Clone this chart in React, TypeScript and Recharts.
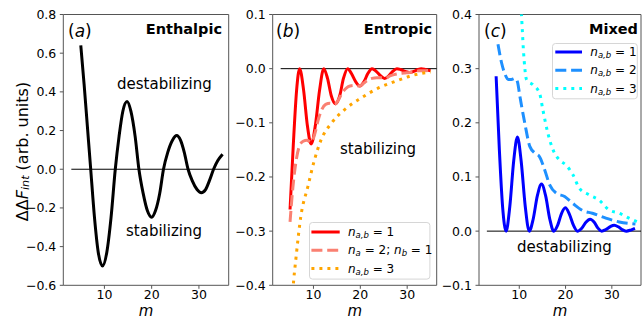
import React from 'react';
import { LineChart, Line, XAxis, YAxis, ReferenceLine, ReferenceArea, Legend } from 'recharts';

const FONT = 'DejaVu Sans, sans-serif';
const SPINE = '#555';
const X_DOMAIN: [number, number] = [1.3, 36.3];
const X_TICKS = [10, 20, 30];

// (a) enthalpic
const mA = [5, 5.7, 6.4, 7.1, 7.9, 8.7, 9.6, 10.5, 11.4, 12.3, 13.1, 13.9, 14.8, 15.6, 16.5, 17.3, 18.2, 19.1, 20.0, 20.8, 21.7, 22.5, 23.4, 24.4, 25.3, 26.1, 26.9, 27.7, 28.6, 29.6, 30.5, 31.4, 32.2, 33.1, 34.0, 35.0];
const dfA = [0.64, 0.44, 0.22, 0, -0.25, -0.43, -0.5, -0.43, -0.25, 0, 0.17, 0.3, 0.35, 0.3, 0.17, 0, -0.125, -0.215, -0.248, -0.215, -0.125, 0, 0.087, 0.15, 0.174, 0.15, 0.087, 0, -0.06, -0.105, -0.121, -0.105, -0.06, 0, 0.045, 0.078];

// (b) entropic
const mB1 = [5, 5.7, 6.4, 7.05, 7.9, 8.7, 9.5, 10.4, 11.3, 12.2, 13.0, 13.8, 14.7, 15.6, 16.4, 17.3, 18.1, 19.0, 19.9, 20.8, 21.6, 22.5, 23.4, 24.3, 25.2, 26.1, 26.9, 27.8, 28.7, 29.6, 30.5, 31.4, 32.2, 33.0, 34.0, 35.0];
const dfB1 = [-0.26, -0.14, -0.04, 0, -0.04, -0.105, -0.139, -0.105, -0.04, 0, -0.018, -0.05, -0.065, -0.05, -0.018, 0, -0.009, -0.024, -0.032, -0.024, -0.009, 0, -0.005, -0.013, -0.018, -0.013, -0.005, 0, -0.002, -0.005, -0.007, -0.005, -0.002, 0, -0.002, -0.004];
const mB2 = [5, 5.6, 6.3, 7.0, 7.8, 8.6, 9.5, 10.3, 11.0, 11.8, 12.6, 13.5, 14.5, 15.3, 16.1, 17.0, 17.8, 18.8, 19.8, 20.7, 21.6, 22.5, 23.5, 24.5, 25.3, 26.2, 27.2, 28.2, 29.3, 30.5, 31.5, 32.5, 33.5, 35.0];
const dfB2 = [-0.283, -0.22, -0.17, -0.143, -0.134, -0.132, -0.136, -0.12, -0.095, -0.075, -0.066, -0.064, -0.066, -0.058, -0.045, -0.036, -0.032, -0.031, -0.032, -0.027, -0.021, -0.018, -0.017, -0.017, -0.018, -0.014, -0.011, -0.009, -0.008, -0.007, -0.006, -0.004, -0.004, -0.003];
const mB3 = [5, 5.6, 6.3, 7.3, 8.8, 10.2, 11.6, 13.8, 16.6, 20.2, 23.8, 27.3, 30.9, 35.0];
const dfB3 = [-0.5, -0.41, -0.347, -0.273, -0.218, -0.169, -0.132, -0.101, -0.076, -0.054, -0.036, -0.024, -0.013, -0.006];

// (c) mixed
const mC1 = [5, 5.7, 6.4, 7.15, 7.95, 8.8, 9.6, 10.4, 11.3, 12.15, 13.0, 13.9, 14.8, 15.7, 16.6, 17.45, 18.3, 19.1, 19.95, 20.8, 21.7, 22.55, 23.5, 24.4, 25.3, 26.2, 27.0, 27.8, 28.7, 29.6, 30.5, 31.4, 32.2, 33.1, 34.1, 35.0];
const dfC1 = [0.286, 0.15, 0.045, 0, 0.045, 0.13, 0.174, 0.13, 0.045, 0, 0.022, 0.065, 0.087, 0.065, 0.022, 0, 0.011, 0.032, 0.043, 0.032, 0.011, 0, 0.0055, 0.0165, 0.022, 0.0165, 0.0055, 0, 0.003, 0.008, 0.011, 0.008, 0.003, 0, 0.002, 0.005];
const mC2 = [5.4, 6.2, 7.0, 7.6, 8.3, 9.1, 9.6, 10.15, 11.2, 12.3, 13.4, 14.4, 15.5, 16.6, 18.0, 19.8, 21.6, 23.7, 25.8, 28.7, 31.6, 35.1];
const dfC2 = [0.345, 0.31, 0.288, 0.28, 0.28, 0.282, 0.276, 0.248, 0.199, 0.156, 0.144, 0.137, 0.113, 0.085, 0.07, 0.064, 0.051, 0.038, 0.033, 0.024, 0.017, 0.013];
const mC3 = [9.5, 10.0, 10.5, 10.9, 11.6, 13.0, 14.4, 15.1, 16.2, 17.3, 18.7, 20.1, 21.6, 23.0, 25.1, 27.3, 29.4, 31.6, 33.7, 35.5];
const dfC3 = [0.55, 0.46, 0.396, 0.334, 0.279, 0.27, 0.254, 0.224, 0.18, 0.15, 0.131, 0.122, 0.104, 0.079, 0.067, 0.057, 0.039, 0.033, 0.024, 0.017];

const Y_TICKS_A = [-0.6, -0.4, -0.2, 0, 0.2, 0.4, 0.6, 0.8];
const Y_TICKS_B = [-0.4, -0.3, -0.2, -0.1, 0, 0.1];
const Y_TICKS_C = [-0.1, 0, 0.1, 0.2, 0.3, 0.4];

const zip = (m: number[], v: number[]) => m.map((x, i) => ({ m: x, v: v[i] }));
const fmt = (v: number) => (v < -1e-9 ? '\u2212' : '') + Math.abs(v).toFixed(1);

const SOLID = undefined;
const DASHED = '11 4.8';
const DOTTED = '3 5';

type Series = { name: React.ReactNode; data: { m: number; v: number }[]; color: string; dash?: string };

function LegendBox({ items, w, h, rows, hx, tx }: { items: Series[]; w: number; h: number; rows: number[]; hx: [number, number]; tx: number }) {
  return (
    <svg width={w} height={h} style={{ display: 'block', overflow: 'visible' }}>
      <rect x={0.5} y={0.5} width={w - 1} height={h - 1} rx={3} fill="rgba(255,255,255,0.8)" stroke="#d6d6d6" />
      {items.map((it, i) => (
        <g key={i}>
          <line x1={hx[0]} x2={hx[1]} y1={rows[i]} y2={rows[i]} stroke={it.color} strokeWidth={3} strokeDasharray={it.dash} />
          <text x={tx} y={rows[i]} dominantBaseline="central" fontSize={12} fontFamily={FONT} fill="#000">{it.name}</text>
        </g>
      ))}
    </svg>
  );
}

const nab = (v: string) => (
  <>
    <tspan fontStyle="italic">n</tspan>
    <tspan fontStyle="italic" fontSize={8.5} dy={3}>a,b</tspan>
    <tspan dy={-3}> = {v}</tspan>
  </>
);

const seriesA: Series[] = [{ name: 'a', data: zip(mA, dfA), color: '#000' }];
const seriesB: Series[] = [
  { name: nab('1'), data: zip(mB1, dfB1), color: '#ff0000', dash: SOLID },
  {
    name: (
      <>
        <tspan fontStyle="italic">n</tspan>
        <tspan fontStyle="italic" fontSize={8.5} dy={3}>a</tspan>
        <tspan dy={-3}> = 2; </tspan>
        <tspan fontStyle="italic">n</tspan>
        <tspan fontStyle="italic" fontSize={8.5} dy={3}>b</tspan>
        <tspan dy={-3}> = 1</tspan>
      </>
    ),
    data: zip(mB2, dfB2), color: '#fa8072', dash: DASHED,
  },
  { name: nab('3'), data: zip(mB3, dfB3), color: '#ffa500', dash: DOTTED },
];
const seriesC: Series[] = [
  { name: nab('1'), data: zip(mC1, dfC1), color: '#0000ff', dash: SOLID },
  { name: nab('2'), data: zip(mC2, dfC2), color: '#1e90ff', dash: DASHED },
  { name: nab('3'), data: zip(mC3, dfC3), color: '#00ffff', dash: DOTTED },
];

type PanelProps = {
  left: number; width: number; yWidth: number; right: number;
  yDomain: [number, number]; yTicks: number[]; series: Series[];
  legend?: { left: number; top: number; w: number; h: number; rows: number[]; hx: [number, number]; tx: number };
};

function Panel({ left, width, yWidth, right, yDomain, yTicks, series, legend }: PanelProps) {
  const tick = { fill: '#000', fontSize: 12.5, fontFamily: FONT };
  return (
    <div style={{ position: 'absolute', left, top: 0 }}>
      <LineChart width={width} height={320} margin={{ top: 14.5, right, bottom: 0, left: 0 }}>
        <XAxis type="number" dataKey="m" domain={X_DOMAIN} ticks={X_TICKS} allowDataOverflow height={34.7}
          tickSize={3.5} tickMargin={1.5} axisLine={false} tickLine={{ stroke: SPINE }} tick={tick} />
        <YAxis type="number" domain={yDomain} ticks={yTicks} allowDataOverflow width={yWidth}
          tickSize={3.5} tickMargin={3.5} axisLine={false} tickLine={{ stroke: SPINE }} tick={tick} tickFormatter={fmt} />
        <ReferenceArea x1={X_DOMAIN[0]} x2={X_DOMAIN[1]} y1={yDomain[0]} y2={yDomain[1]} fill="none" stroke={SPINE} strokeWidth={1} fillOpacity={0} />
        <ReferenceLine segment={[{ x: 3, y: 0 }, { x: X_DOMAIN[1], y: 0 }]} stroke="#000" strokeWidth={1} />
        {series.map((s, i) => (
          <Line key={i} data={s.data} dataKey="v" type="monotone" stroke={s.color} strokeWidth={3}
            strokeDasharray={s.dash} dot={false} activeDot={false} isAnimationActive={false} />
        ))}
        {legend && (
          <Legend layout="horizontal" verticalAlign="middle" align="center"
            wrapperStyle={{ left: legend.left, top: legend.top, width: legend.w, height: legend.h }}
            content={() => <LegendBox items={series} w={legend.w} h={legend.h} rows={legend.rows} hx={legend.hx} tx={legend.tx} />} />
        )}
      </LineChart>
    </div>
  );
}

export default function App() {
  return (
    <div style={{ position: 'absolute', left: 0, top: 0, width: 642, height: 320, background: '#fff', fontFamily: FONT }}>
      <Panel left={0} width={230} yWidth={63.3} right={1.3} yDomain={[-0.6, 0.8]} yTicks={Y_TICKS_A} series={seriesA} />
      <Panel left={230} width={208} yWidth={42.7} right={1.3} yDomain={[-0.4, 0.1]} yTicks={Y_TICKS_B} series={seriesB}
        legend={{ left: 79.3, top: 221.7, w: 121.4, h: 57.6, rows: [10, 28.3, 46.6], hx: [2.4, 30.7], tx: 39 }} />
      <Panel left={438} width={204} yWidth={41} right={1} yDomain={[-0.1, 0.4]} yTicks={Y_TICKS_C} series={seriesC}
        legend={{ left: 113.7, top: 42.7, w: 85.8, h: 56.3, rows: [9, 27.3, 45.6], hx: [3.3, 30], tx: 38.3 }} />
      <svg width={642} height={320} style={{ position: 'absolute', left: 0, top: 0, pointerEvents: 'none' }} fontFamily={FONT}>
        <text transform="translate(22,151.5) rotate(-90)" textAnchor="middle" dominantBaseline="central" fontSize={16}>
          ΔΔ<tspan fontStyle="italic">F</tspan><tspan fontStyle="italic" fontSize={11.2} dy={3}>int</tspan><tspan dy={-3}> (arb. units)</tspan>
        </text>
        <text x={146} y={316} textAnchor="middle" fontSize={15} fontStyle="italic">m</text>
        <text x={354.7} y={316} textAnchor="middle" fontSize={15} fontStyle="italic">m</text>
        <text x={560} y={316} textAnchor="middle" fontSize={15} fontStyle="italic">m</text>

        <text x={68} y={37} fontSize={17}>(<tspan fontStyle="italic">a</tspan>)</text>
        <text x={276} y={37} fontSize={17}>(<tspan fontStyle="italic">b</tspan>)</text>
        <text x={484} y={37} fontSize={17}>(<tspan fontStyle="italic">c</tspan>)</text>
        <text x={222} y={33.5} textAnchor="end" fontSize={14.5} fontWeight="bold">Enthalpic</text>
        <text x={432} y={33.5} textAnchor="end" fontSize={14.5} fontWeight="bold">Entropic</text>
        <text x={638} y={33.5} textAnchor="end" fontSize={14.5} fontWeight="bold">Mixed</text>

        <text x={117} y={89} fontSize={15}>destabilizing</text>
        <text x={126} y={236} fontSize={15}>stabilizing</text>
        <text x={340} y={154} fontSize={15}>stabilizing</text>
        <text x={517} y={252} fontSize={15}>destabilizing</text>
      </svg>
    </div>
  );
}
